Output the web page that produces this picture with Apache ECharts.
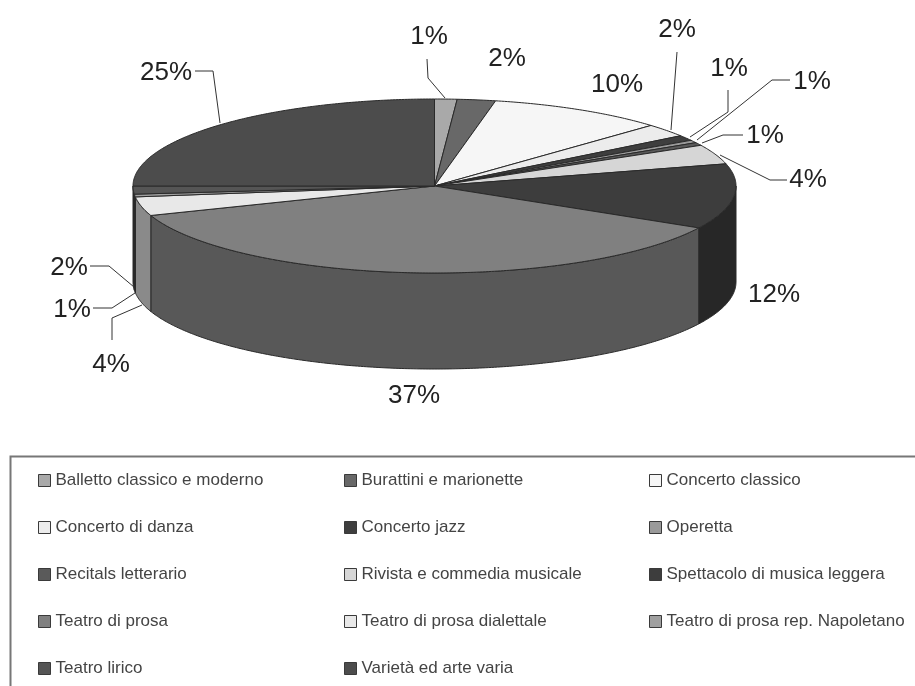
<!DOCTYPE html>
<html><head><meta charset="utf-8">
<style>html,body{margin:0;padding:0;background:#fff}#c{width:915px;height:686px;filter:blur(0.5px)}</style>
<script src="https://cdn.jsdelivr.net/npm/echarts@6/dist/echarts.min.js"></script>
</head><body><div id="c"></div>
<script>
// data
const categories = ["Balletto classico e moderno","Burattini e marionette","Concerto classico","Concerto di danza","Concerto jazz","Operetta","Recitals letterario","Rivista e commedia musicale","Spettacolo di musica leggera","Teatro di prosa","Teatro di prosa dialettale","Teatro di prosa rep. Napoletano","Teatro lirico","Varietà ed arte varia"];
const values = [1.2,2.05,9.5,2.45,1,0.5,0.55,3.65,12.1,36.5,3.5,0.5,1.5,25];
const labelTexts = ["1%","2%","10%","2%","1%","1%","1%","4%","12%","37%","4%","1%","2%","25%"];
// styles
const topColors = ["#a9a9a9","#686868","#f6f6f6","#ececec","#3e3e3e","#9a9a9a","#5a5a5a","#d6d6d6","#3d3d3d","#808080","#e8e8e8","#a0a0a0","#555555","#4c4c4c"];
const sideColors = ["#888","#444","#ccc","#bbb","#222","#777","#333","#aaa","#272727","#585858","#8a8a8a","#222222","#262626","#333"];
// layout
const pie = {cx:434.5, cy:186, rx:301.5, ry:87, depth:96};
const labelAt = [[429,37],[507,59],[617,85],[677,30],[729,69],[812,82],[765,136],[808,180],[774,295],[414,396],[111,365],[72,310],[69,268],[166,73]];
const leaders = [
 [[427,59],[428,78],[445,98]], null, null,
 [[677,52],[671,130]],
 [[728,90],[728,112],[690,137]],
 [[790,80],[772,80],[697,140]],
 [[743,135],[723,135],[702,143]],
 [[787,180],[770,180],[720,155]],
 null, null,
 [[112,340],[112,318],[142,305]],
 [[93,308],[112,308],[135,293]],
 [[90,266],[109,266],[134,287]],
 [[195,71],[213,71],[220,123]]
];
const legendCols = [[0,3,6,9,12],[1,4,7,10,13],[2,5,8,11]];
const legendX = [38,344,649];

const total = values.reduce((a,b)=>a+b,0);
function pt(t,dy){return [pie.cx+pie.rx*Math.sin(t), pie.cy-pie.ry*Math.cos(t)+(dy||0)];}
function arc(t0,t1,dy){const n=Math.max(2,Math.ceil((t1-t0)/0.01));const out=[];for(let i=0;i<=n;i++)out.push(pt(t0+(t1-t0)*i/n,dy));return out;}
const stroke={stroke:'#2a2a2a',lineWidth:1};
let cum=0;
const series = categories.map((name,i)=>{
  const a0=cum/total*Math.PI*2; cum+=values[i]; const a1=cum/total*Math.PI*2;
  return {
    type:'custom', name, coordinateSystem:'none', silent:true, animation:false,
    itemStyle:{color:topColors[i]},
    data:[{value:[a0,a1]}],
    z:2,
    renderItem(params,api){
      const t0=api.value(0), t1=api.value(1), children=[];
      const s0=Math.max(t0,Math.PI/2), s1=Math.min(t1,Math.PI*1.5);
      if(s1>s0){
        const top=arc(s0,s1,0), bot=arc(s0,s1,pie.depth).reverse();
        children.push({type:'polygon',shape:{points:top.concat(bot)},style:Object.assign({fill:sideColors[i]},stroke)});
      }
      children.push({type:'polygon',z2:5,shape:{points:[[pie.cx,pie.cy]].concat(arc(t0,t1,0))},style:Object.assign({fill:topColors[i]},stroke)});
      if(leaders[i]) children.push({type:'polyline',z2:6,shape:{points:leaders[i]},style:{fill:null,stroke:'#333',lineWidth:1}});
      children.push({type:'text',z2:7,x:labelAt[i][0],y:labelAt[i][1],style:{text:labelTexts[i],fill:'#222',font:'26px "Liberation Sans"',align:'center',verticalAlign:'middle'}});
      return {type:'group',children};
    }
  };
});
const legend = legendCols.map((col,c)=>({
  orient:'vertical', left:legendX[c], top:472, padding:0, selectedMode:false,
  itemWidth:12, itemHeight:12, itemGap:30,
  icon:'rect',
  itemStyle:{borderColor:'#3a3a3a',borderWidth:1},
  textStyle:{fontFamily:'"Liberation Sans"',fontSize:17,lineHeight:13,color:'#444',padding:[0,0,4,0]},
  data:col.map(i=>categories[i])
}));
const chart = echarts.init(document.getElementById('c'),null,{renderer:'canvas'});
chart.setOption({
  backgroundColor:'#fff', animation:false, legend, series,
  graphic:[{type:'rect',z:-1,silent:true,shape:{x:10.5,y:456.5,width:1000,height:400},style:{fill:'none',stroke:'#777',lineWidth:2}}]
});
</script></body></html>
